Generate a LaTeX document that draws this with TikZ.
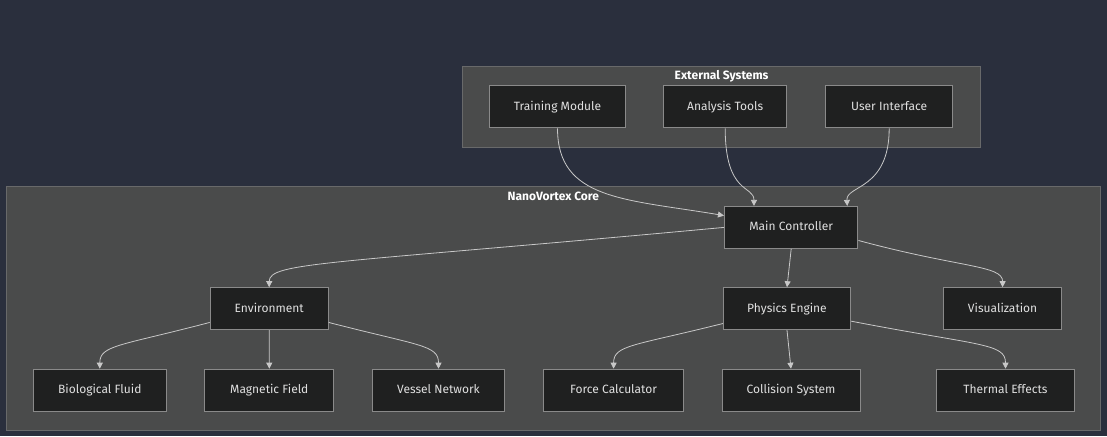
\documentclass[tikz,border=0pt]{standalone}
\usepackage{fontspec}
\setmainfont{Fira Sans}
\usetikzlibrary{arrows.meta, positioning}
\definecolor{pagebg}{RGB}{42,47,61}
\definecolor{groupfill}{RGB}{74,75,75}
\definecolor{groupline}{RGB}{104,105,106}
\definecolor{boxfill}{RGB}{31,32,32}
\definecolor{boxline}{RGB}{138,138,138}
\definecolor{linkcolor}{RGB}{200,200,200}
\definecolor{labelcolor}{RGB}{224,224,224}

\begin{document}
\begin{tikzpicture}[
    x=0.75pt, y=-0.75pt,
    group/.style={draw=groupline, fill=groupfill, line width=0.75pt},
    grouptitle/.style={text=white, font=\fontsize{9}{11}\selectfont\bfseries},
    block/.style={draw=boxline, fill=boxfill, line width=0.75pt, text=labelcolor, minimum height=31.5pt, inner sep=0pt, text height=7pt, text depth=2pt, font=\fontsize{9}{11}\selectfont},
    arrow/.style={-{Triangle[length=4.5pt, width=4.5pt]}, draw=linkcolor, line width=0.6pt}
]
    \useasboundingbox[fill=pagebg] (0,0) rectangle (1107,436);

    % clusters
    \draw[group] (462.7,66) rectangle (980.6,147);
    \node[grouptitle] (exttitle) at (721.6,76) {External Systems};
    \draw[group] (6,186) rectangle (1100.6,430);
    \node[grouptitle] (coretitle) at (553.3,196) {NanoVortex Core};

    % external systems
    \node[block, minimum width=101.7pt] (train) at (557.5,106.8) {Training Module};
    \node[block, minimum width=92.6pt] (analysis) at (725.2,106.8) {Analysis Tools};
    \node[block, minimum width=95.5pt] (ui) at (889.2,106.8) {User Interface};

    % core
    \node[block, minimum width=100.1pt] (main) at (791.2,227.4) {Main Controller};
    \node[block, minimum width=88.5pt] (env) at (269.2,308.7) {Environment};
    \node[block, minimum width=95.5pt] (phys) at (787,308.7) {Physics Engine};
    \node[block, minimum width=89pt] (vis) at (1002.6,308.7) {Visualization};
    \node[block, minimum width=99.9pt] (bio) at (99.8,390.2) {Biological Fluid};
    \node[block, minimum width=97pt] (mag) at (269.3,390.2) {Magnetic Field};
    \node[block, minimum width=99pt] (vessel) at (438.5,390.2) {Vessel Network};
    \node[block, minimum width=105pt] (force) at (613.6,390.2) {Force Calculator};
    \node[block, minimum width=103.5pt] (coll) at (791,390.2) {Collision System};
    \node[block, minimum width=102.8pt] (thermal) at (1005.5,390.2) {Thermal Effects};

    % links into the controller
    \draw[arrow] (train.south) .. controls (557.5,200) and (625,199) .. (main.170);
    \draw[arrow] (analysis.south) .. controls (725.2,195) and (754,185) .. (main.150);
    \draw[arrow] (ui.south) .. controls (889.2,190) and (846,185) .. (main.21);

    % controller to subsystems
    \draw[arrow] (main.west) .. controls (330,264) and (269.2,262) .. (env.north);
    \draw[arrow] (main.south) -- (phys.north);
    \draw[arrow] (main.-11) .. controls (960,268) and (1002.6,265) .. (vis.north);

    % environment
    \draw[arrow] (env.193) .. controls (120,346) and (99.8,345) .. (bio.north);
    \draw[arrow] (env.south) -- (mag.north);
    \draw[arrow] (env.-13) .. controls (420,346) and (438.5,345) .. (vessel.north);

    % physics
    \draw[arrow] (phys.193) .. controls (633,346) and (613.6,345) .. (force.north);
    \draw[arrow] (phys.south) -- (coll.north);
    \draw[arrow] (phys.-11) .. controls (980,346) and (1005.5,343) .. (thermal.north);
\end{tikzpicture}
\end{document}
